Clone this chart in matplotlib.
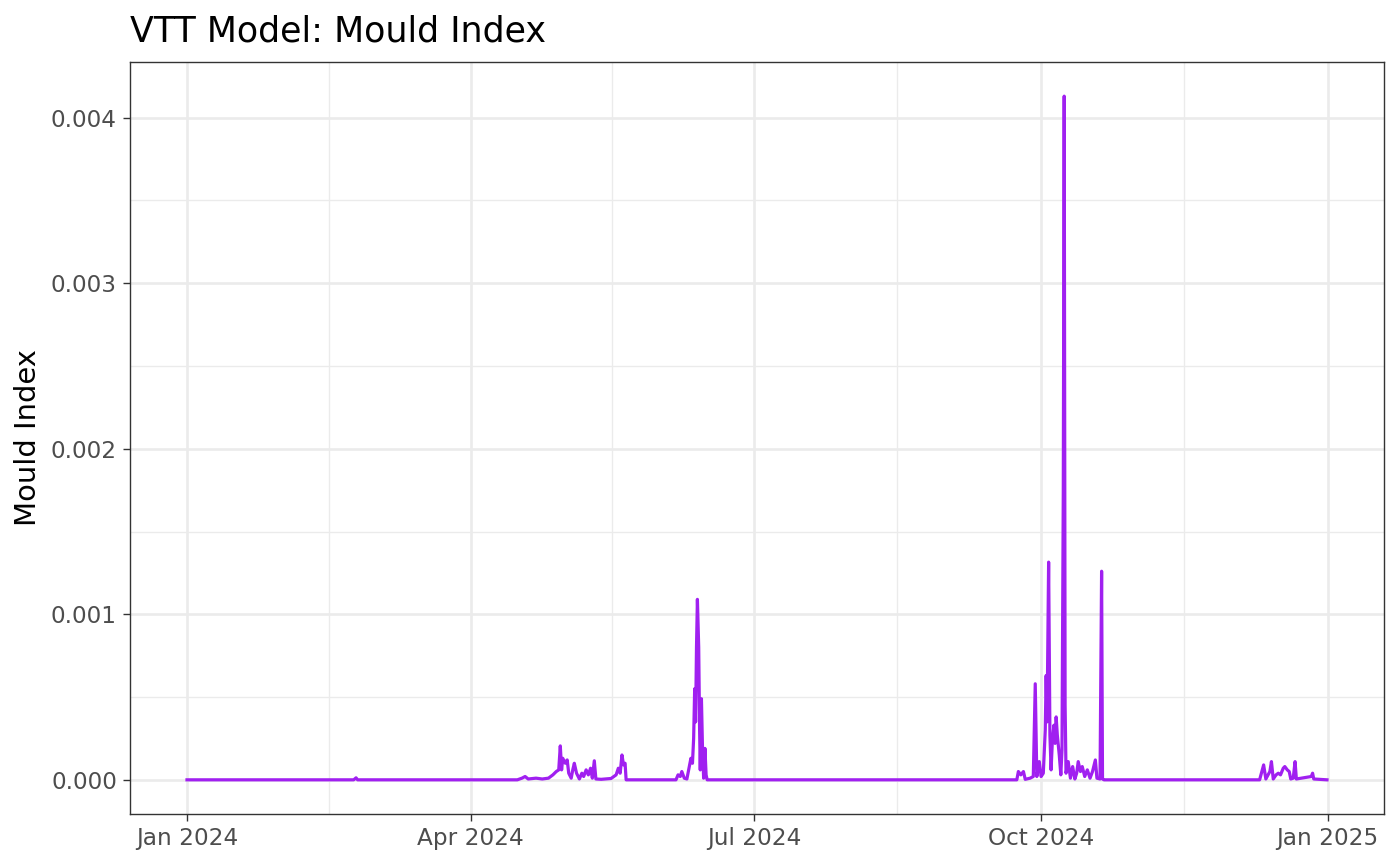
import matplotlib
matplotlib.use("Agg")
import matplotlib.pyplot as plt
import matplotlib.dates as mdates
import pandas as pd
import numpy as np

# ---- data ----
times = [
    "2024-01-01 00:00",
    "2024-02-23 12:00", "2024-02-24 06:00", "2024-02-24 18:00",
    "2024-04-16 00:00", "2024-04-17 12:00", "2024-04-18 12:00", "2024-04-19 12:00",
    "2024-04-22 00:00", "2024-04-24 00:00", "2024-04-26 00:00",
    "2024-04-27 10:00", "2024-04-28 12:00", "2024-04-29 07:00", "2024-04-29 19:00",
    "2024-04-30 05:00", "2024-04-30 14:00", "2024-05-01 10:00", "2024-05-02 00:00",
    "2024-05-02 12:00", "2024-05-03 07:00", "2024-05-03 19:00", "2024-05-04 07:00",
    "2024-05-05 00:00", "2024-05-05 22:00", "2024-05-06 17:00", "2024-05-07 07:00",
    "2024-05-08 02:00", "2024-05-08 19:00", "2024-05-09 12:00", "2024-05-10 02:00",
    "2024-05-10 17:00", "2024-05-11 05:00", "2024-05-12 22:00", "2024-05-16 02:00",
    "2024-05-17 17:00", "2024-05-18 10:00", "2024-05-19 00:00", "2024-05-19 14:00",
    "2024-05-20 02:00", "2024-05-20 14:00", "2024-05-20 22:00",
    "2024-06-05 22:00", "2024-06-06 14:00", "2024-06-07 07:00", "2024-06-07 19:00",
    "2024-06-08 14:00", "2024-06-09 10:00", "2024-06-10 05:00", "2024-06-10 17:00",
    "2024-06-11 05:00", "2024-06-11 14:00", "2024-06-11 22:00", "2024-06-12 05:00",
    "2024-06-12 12:00", "2024-06-12 19:00", "2024-06-13 05:00", "2024-06-13 12:00",
    "2024-06-13 17:00", "2024-06-14 02:00", "2024-06-14 10:00", "2024-06-14 19:00",
    "2024-06-15 05:00", "2024-06-15 14:00", "2024-06-15 22:00",
    "2024-09-23 07:00", "2024-09-23 19:00", "2024-09-24 14:00", "2024-09-25 10:00",
    "2024-09-26 00:00", "2024-09-27 14:00", "2024-09-28 14:00", "2024-09-29 05:00",
    "2024-09-29 17:00", "2024-09-30 12:00", "2024-10-01 02:00", "2024-10-01 19:00",
    "2024-10-02 10:00", "2024-10-02 17:00", "2024-10-03 00:00", "2024-10-03 12:00",
    "2024-10-03 22:00", "2024-10-04 07:00", "2024-10-04 17:00", "2024-10-05 05:00",
    "2024-10-05 14:00", "2024-10-05 22:00", "2024-10-06 07:00", "2024-10-06 22:00",
    "2024-10-07 10:00", "2024-10-07 19:00", "2024-10-08 05:00", "2024-10-08 12:00",
    "2024-10-08 19:00", "2024-10-09 02:00", "2024-10-09 19:00", "2024-10-10 12:00",
    "2024-10-11 05:00", "2024-10-11 22:00", "2024-10-12 12:00", "2024-10-13 00:00",
    "2024-10-13 17:00", "2024-10-14 07:00", "2024-10-15 02:00", "2024-10-15 22:00",
    "2024-10-16 19:00", "2024-10-17 14:00", "2024-10-18 12:00", "2024-10-19 00:00",
    "2024-10-20 00:00", "2024-10-20 12:00", "2024-10-20 19:00", "2024-10-21 07:00",
    "2024-12-10 05:00", "2024-12-11 02:00", "2024-12-11 12:00", "2024-12-12 05:00",
    "2024-12-12 22:00", "2024-12-13 12:00", "2024-12-14 00:00", "2024-12-14 14:00",
    "2024-12-15 12:00", "2024-12-16 05:00", "2024-12-16 22:00", "2024-12-17 19:00",
    "2024-12-18 07:00", "2024-12-19 02:00", "2024-12-19 17:00", "2024-12-20 05:00",
    "2024-12-21 00:00", "2024-12-21 14:00", "2024-12-22 00:00", "2024-12-26 19:00",
    "2024-12-27 05:00", "2024-12-27 14:00", "2024-12-31 20:00",
]
mould_index = [
    0.0,
    0.0, 0.000012, 0.0,
    0.0, 0.00001, 0.00002, 0.000005,
    0.00001, 0.000005, 0.00001,
    0.00003, 0.00005, 0.00006, 0.000205,
    0.00006, 0.00013, 0.0001, 0.00012,
    0.00004, 0.00001, 0.00006, 0.0001,
    0.00004, 0.000005, 0.00004, 0.00002,
    0.00006, 0.00003, 0.00007, 0.00001,
    0.000115, 0.000005, 0.000003, 0.000008,
    0.00003, 0.00007, 0.00004, 0.00015,
    0.00009, 0.0001, 0.0,
    0.0, 0.00003, 0.00002, 0.00005,
    0.00001, 0.000005, 0.00008, 0.00013,
    0.0001, 0.00025, 0.00055, 0.00035,
    0.0008, 0.00109, 0.0008, 0.0003,
    0.00006, 0.00049, 0.0002, 0.00001,
    0.00019, 0.00003, 0.0,
    0.0, 0.00005, 0.00003, 0.00005,
    0.000003, 0.00001, 0.00002, 0.00058,
    0.00002, 0.00011, 0.00002, 0.00004,
    0.0003, 0.00063, 0.00035, 0.001315,
    0.00027, 0.00006, 0.00024, 0.00033,
    0.00022, 0.00038, 0.00027, 0.00015,
    0.00003, 0.00018, 0.00175, 0.00413,
    0.00045, 0.00004, 0.00011, 0.00001,
    0.00008, 0.000005, 0.00004, 0.00011,
    0.00005, 0.00008, 0.00002, 0.00006,
    0.00001, 0.00005, 0.00012, 0.00001,
    0.000005, 0.00126, 0.000005, 0.0,
    0.0, 0.00006, 0.00009, 0.000005,
    0.00003, 0.00005, 0.00011, 0.000005,
    0.00003, 0.00004, 0.00003, 0.00007,
    0.00008, 0.00006, 0.00005, 0.000005,
    0.00001, 0.00011, 0.000005, 0.00002,
    0.00004, 0.000005, 0.0,
]
x_breaks = ["2024-01-01", "2024-04-01", "2024-07-01", "2024-10-01", "2025-01-01"]
x_labels = ["Jan 2024", "Apr 2024", "Jul 2024", "Oct 2024", "Jan 2025"]
y_breaks = [0.0, 0.001, 0.002, 0.003, 0.004]
y_labels = ["0.000", "0.001", "0.002", "0.003", "0.004"]
title = "VTT Model: Mould Index"
ylabel = "Mould Index"

# ---- figure ----
W, H = 1400, 865
fig = plt.figure(figsize=(W / 100, H / 100), dpi=100)
ax = fig.add_axes([130 / W, 1 - 814 / H, (1384 - 130) / W, (814 - 62) / H])

t = pd.to_datetime(times)
v = np.array(mould_index)
ax.plot(t, v, color="#A020F0", lw=2.3, solid_joinstyle="round", zorder=3)

# limits with ggplot-like 5% expansion
xmin, xmax = mdates.date2num(t.min()), mdates.date2num(t.max())
dx = (xmax - xmin) * 0.05
ax.set_xlim(xmin - dx, xmax + dx)
ymin, ymax = v.min(), v.max()
dy = (ymax - ymin) * 0.05
ax.set_ylim(ymin - dy, ymax + dy)

xb = mdates.date2num(pd.to_datetime(x_breaks))
ax.set_xticks(xb)
ax.set_xticklabels(x_labels)
ax.set_xticks((xb[:-1] + xb[1:]) / 2, minor=True)
ax.set_yticks(y_breaks)
ax.set_yticklabels(y_labels)
yb = np.array(y_breaks)
ax.set_yticks((yb[:-1] + yb[1:]) / 2, minor=True)

ax.grid(which="major", color="#EBEBEB", lw=1.9, zorder=0)
ax.grid(which="minor", color="#EBEBEB", lw=0.95, zorder=0)
ax.set_axisbelow(True)

for s in ax.spines.values():
    s.set_color("#333333")
    s.set_linewidth(1.0)

ax.tick_params(which="major", length=5.2, width=1.0, color="#333333",
               labelsize=16.7, labelcolor="#4D4D4D", pad=4.2)
ax.tick_params(which="minor", length=0)

ax.set_ylabel(ylabel, fontsize=20.9, color="black")
ax.yaxis.set_label_coords(-0.081, 0.5)
ax.yaxis.label.set_va("center")

fig.text(130 / W, 1 - 42 / H, title, fontsize=25.1, color="black",
         ha="left", va="baseline")

fig.savefig("out.png", dpi=100, facecolor="white")
